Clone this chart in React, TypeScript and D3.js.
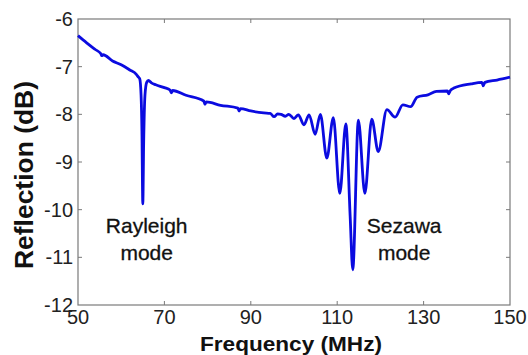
import React, { useEffect, useRef } from 'react';
import * as d3 from 'd3';

// measured reflection trace (MHz, dB)
const freqs = [
  50, 52, 54, 55.3, 55.5, 55.8, 58, 60, 62, 63.5, 63.9, 64.3, 64.6, 64.8, 65.0, 65.2, 65.5, 65.9, 66.3,
  67, 68, 70, 71.3, 71.6, 71.9, 75, 79.1, 79.4, 79.7, 83, 87.0, 87.3, 87.6, 90, 93, 94.5, 95.4, 96.2,
  97, 98, 98.8, 100, 101, 102.3, 103.5, 104.9, 106.1, 107.6, 109.1, 110.6, 112.0, 113.0, 113.6, 114.9,
  116.4, 118.0, 119.5, 121.5, 123.4, 125.2, 127, 128.5, 131, 133, 135.5, 135.8, 136.2, 137, 141,
  143.5, 143.8, 144.2, 147, 150
];
const reflection = [
  -6.35, -6.5, -6.64, -6.73, -6.77, -6.75, -6.88, -6.96, -7.07, -7.16, -7.21, -7.26, -7.6, -8.35, -9.88, -8.6, -7.6, -7.33, -7.29,
  -7.34, -7.38, -7.44, -7.49, -7.55, -7.5, -7.6, -7.72, -7.79, -7.74, -7.81, -7.87, -7.93, -7.88, -7.93, -7.97, -7.98, -8.05, -7.99,
  -8.0, -8.04, -8.0, -8.09, -8.01, -8.22, -8.01, -8.42, -8.0, -8.92, -8.07, -9.66, -8.2, -10.14, -11.26, -8.12,
  -9.66, -8.1, -8.78, -7.9, -8.06, -7.8, -7.84, -7.64, -7.59, -7.52, -7.51, -7.57, -7.5, -7.45, -7.36,
  -7.33, -7.4, -7.33, -7.28, -7.22
];

const xTicks = [50, 70, 90, 110, 130, 150];
const yTicks = [-6, -7, -8, -9, -10, -11, -12];

const annotations = [
  { f: 65.9, lines: ['Rayleigh', 'mode'] },
  { f: 125.5, lines: ['Sezawa', 'mode'] }
];

const FONT = 'Arial, "Liberation Sans", sans-serif';

export default function App() {
  const ref = useRef<SVGSVGElement>(null);

  useEffect(() => {
    const svg = d3.select(ref.current);
    svg.selectAll('*').remove();

    const margin = { top: 19, left: 78 };
    const width = 432, height = 286;

    const x = d3.scaleLinear().domain([50, 150]).range([margin.left, margin.left + width]);
    const y = d3.scaleLinear().domain([-12, -6]).range([margin.top + height, margin.top]);

    const frameColor = '#7a7a7a';
    const tick = 4;

    // box
    svg.append('rect')
      .attr('x', x(50)).attr('y', y(-6))
      .attr('width', width).attr('height', height)
      .attr('fill', 'none').attr('stroke', frameColor).attr('stroke-width', 1.2);

    // ticks, inside on all sides
    const g = svg.append('g').attr('stroke', frameColor).attr('stroke-width', 1);
    xTicks.slice(1, -1).forEach(t => {
      g.append('line').attr('x1', x(t)).attr('x2', x(t)).attr('y1', y(-12)).attr('y2', y(-12) - tick);
      g.append('line').attr('x1', x(t)).attr('x2', x(t)).attr('y1', y(-6)).attr('y2', y(-6) + tick);
    });
    yTicks.slice(1, -1).forEach(t => {
      g.append('line').attr('x1', x(50)).attr('x2', x(50) + tick).attr('y1', y(t)).attr('y2', y(t));
      g.append('line').attr('x1', x(150)).attr('x2', x(150) - tick).attr('y1', y(t)).attr('y2', y(t));
    });

    // tick labels
    svg.append('g').selectAll('text').data(xTicks).enter().append('text')
      .attr('x', d => x(d)).attr('y', 324)
      .attr('text-anchor', 'middle')
      .attr('font-family', FONT).attr('font-size', 20).attr('fill', '#222')
      .text(d => d);
    svg.append('g').selectAll('text').data(yTicks).enter().append('text')
      .attr('x', 73).attr('y', d => y(d) + 7)
      .attr('text-anchor', 'end')
      .attr('font-family', FONT).attr('font-size', 20).attr('fill', '#222')
      .text(d => d);

    // axis titles
    svg.append('text')
      .attr('x', 291).attr('y', 351)
      .attr('text-anchor', 'middle')
      .attr('font-family', FONT).attr('font-size', 21).attr('font-weight', 'bold').attr('fill', '#111')
      .attr('textLength', 182).attr('lengthAdjust', 'spacingAndGlyphs')
      .text('Frequency (MHz)');
    svg.append('text')
      .attr('transform', 'translate(33,175) rotate(-90)')
      .attr('text-anchor', 'middle')
      .attr('font-family', FONT).attr('font-size', 25).attr('font-weight', 'bold').attr('fill', '#111')
      .attr('textLength', 188).attr('lengthAdjust', 'spacingAndGlyphs')
      .text('Reflection (dB)');

    // trace
    const line = d3.line<number>()
      .x((d, i) => x(freqs[i]))
      .y(d => y(d))
      .curve(d3.curveMonotoneX);
    svg.append('path')
      .datum(reflection)
      .attr('d', line)
      .attr('fill', 'none')
      .attr('stroke', '#0b0be0')
      .attr('stroke-width', 2.8)
      .attr('stroke-linejoin', 'round');

    // mode labels
    annotations.forEach(a => {
      a.lines.forEach((s, k) => {
        svg.append('text')
          .attr('x', x(a.f)).attr('y', 233 + k * 27)
          .attr('text-anchor', 'middle')
          .attr('font-family', FONT).attr('font-size', 21).attr('fill', '#111')
          .attr('stroke', '#111').attr('stroke-width', 0.3)
          .text(s);
      });
    });
  }, []);

  return (
    <svg ref={ref} width={528} height={355}
      style={{ position: 'absolute', left: 0, top: 0, background: '#fff' }} />
  );
}
